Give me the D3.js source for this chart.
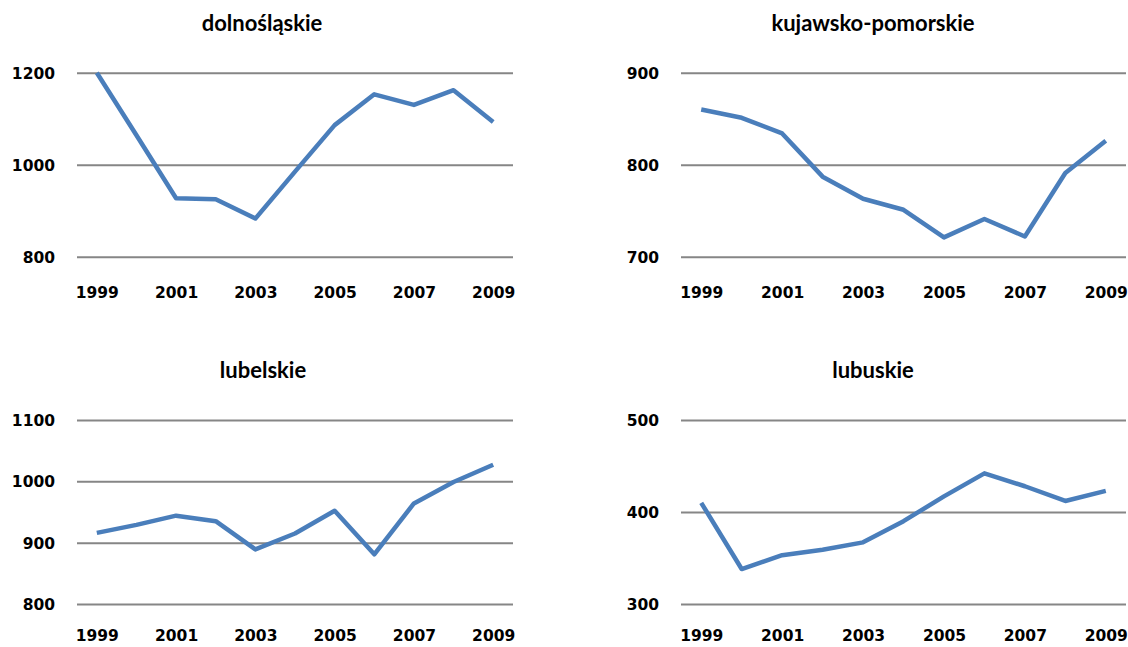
<!DOCTYPE html>
<html>
<head>
<meta charset="utf-8">
<script src="https://cdn.jsdelivr.net/npm/d3@7"></script>
<style>
  body { margin: 0; background: #fff; }
  svg { display: block; }
  .tick text { font-family: "DejaVu Sans", sans-serif; font-weight: bold; font-size: 15.5px; fill: #000; }
  .title { font-family: Lato, sans-serif; font-weight: bold; font-size: 22px; fill: #000; }
</style>
</head>
<body>
<svg id="chart" width="1128" height="647"></svg>
<script>
// data
var years = ['1999', '2000', '2001', '2002', '2003', '2004', '2005', '2006', '2007', '2008', '2009'];
var yearLabels = ['1999', '2001', '2003', '2005', '2007', '2009'];

var titles = ['dolnośląskie', 'kujawsko-pomorskie', 'lubelskie', 'lubuskie'];

var dolnoslaskie = [1200, 1064, 927, 925, 883, 985, 1086, 1153, 1130, 1162, 1093];
var kujawskoPomorskie = [860, 851, 834, 787, 763, 751, 721, 741, 722, 791, 826];
var lubelskie = [916, 929, 944, 935, 889, 915, 952, 881, 964, 999, 1027];
var lubuskie = [410, 338, 353, 359, 367, 390, 417, 442, 428, 412, 423];

var ticks1 = [800, 1000, 1200];
var ticks2 = [700, 800, 900];
var ticks3 = [800, 900, 1000, 1100];
var ticks4 = [300, 400, 500];

var seriesList = [dolnoslaskie, kujawskoPomorskie, lubelskie, lubuskie];
var tickList = [ticks1, ticks2, ticks3, ticks4];

// layout of the four panels
var boxes = [
    { left: 77, right: 513, top: 72.7, bottom: 256.7, titleX: 262, titleY: 31, labelY: 287 },
    { left: 681, right: 1126, top: 72.7, bottom: 256.7, titleX: 873, titleY: 31, labelY: 287 },
    { left: 77, right: 513, top: 420, bottom: 604, titleX: 263, titleY: 378, labelY: 630 },
    { left: 681, right: 1126, top: 420, bottom: 604, titleX: 873, titleY: 378, labelY: 630 }
];

var svg = d3.select('#chart');

boxes.forEach(function(b, k) {
    var values = seriesList[k];
    var tv = tickList[k];

    var x = d3.scalePoint()
        .domain(years)
        .range([b.left, b.right])
        .padding(0.5);

    var y = d3.scaleLinear()
        .domain([tv[0], tv[tv.length - 1]])
        .range([b.bottom, b.top]);

    var g = svg.append('g');

    // gridlines + y labels
    var yAxis = g.append('g')
        .attr('transform', 'translate(' + b.left + ',0)')
        .call(d3.axisLeft(y).tickValues(tv).tickSize(-(b.right - b.left)).tickPadding(22).tickFormat(d3.format('d')));
    yAxis.select('.domain').remove();
    yAxis.selectAll('.tick line')
        .attr('stroke', '#868686')
        .attr('stroke-width', 2);
    yAxis.selectAll('.tick text').attr('dy', '0.36em');

    // x labels, every second year
    var xAxis = g.append('g')
        .attr('transform', 'translate(0,' + b.labelY + ')')
        .call(d3.axisBottom(x).tickValues(yearLabels).tickSize(0).tickPadding(0));
    xAxis.select('.domain').remove();
    xAxis.selectAll('.tick text').attr('dy', '0.71em');

    var line = d3.line()
        .x(function(d, i) { return x(years[i]); })
        .y(function(d) { return y(d); });

    g.append('path')
        .datum(values)
        .attr('fill', 'none')
        .attr('stroke', '#4a7ebb')
        .attr('stroke-width', 4.5)
        .attr('stroke-linejoin', 'round')
        .attr('d', line);

    g.append('text')
        .attr('class', 'title')
        .attr('x', b.titleX)
        .attr('y', b.titleY)
        .attr('text-anchor', 'middle')
        .text(titles[k]);
});
</script>
</body>
</html>
